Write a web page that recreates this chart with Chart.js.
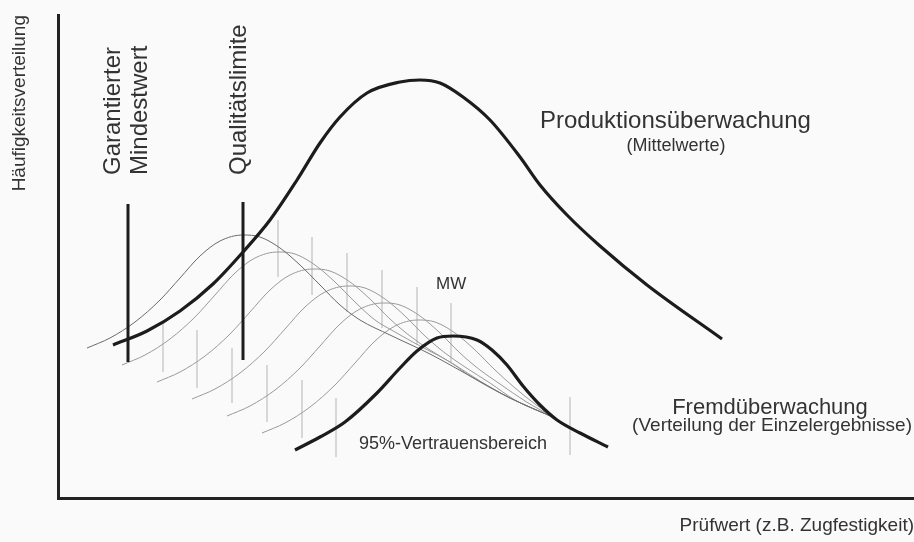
<!DOCTYPE html>
<html lang="de">
<head>
<meta charset="utf-8">
<title>Produktions- und Fremdüberwachung</title>
<script src="https://cdn.jsdelivr.net/npm/chart.js@4.4.1/dist/chart.umd.min.js"></script>
<style>
  html, body { margin: 0; padding: 0; background: #fafafa; }
  canvas { display: block; }
</style>
</head>
<body>
<canvas id="chart" width="914" height="542"></canvas>
<script>
const produktion = [[55,153],[89,167],[122,187],[155,214],[185,246],[212,278],[239,318],[262,355],[282,381],[309,405],[342,416],[362,418],[382,415],[405,401],[432,378],[462,341],[482,313],[509,283],[542,252],[589,213],[664,159]];
const fremd = [[237,48],[262,61],[287,76],[319,105],[342,130],[359,147],[379,160],[395,162],[419,158],[434,148],[449,133],[465,112],[482,93],[499,78],[522,65],[550,51]];

// Stichproben (dünne Kurven)
const kurve1 = [[29,150],[52,160],[77,176],[102,198],[122,220],[142,242],[162,257],[185,263],[202,261],[222,250],[242,233],[262,213],[282,193],[302,178],[332,163],[372,144],[412,122],[452,100],[497,80]];
const kurve2 = [[64,133],[87,143],[112,159],[137,181],[157,203],[177,225],[197,240],[220,246],[237,244],[257,233],[277,216],[297,196],[317,178],[337,166],[362,152],[392,136],[412,122],[452,100],[497,80]];
const kurve3 = [[99,116],[122,126],[147,142],[172,164],[192,186],[212,208],[232,223],[255,229],[272,227],[292,216],[312,199],[332,179],[352,162],[372,148],[397,133],[422,117],[452,100],[497,80]];
const kurve4 = [[134,99],[157,109],[182,125],[207,147],[227,169],[247,191],[267,206],[290,212],[307,210],[327,199],[347,182],[367,162],[387,145],[407,131],[432,115],[457,98],[497,80]];
const kurve5 = [[169,82],[192,92],[217,108],[242,130],[262,152],[282,174],[302,189],[325,195],[342,193],[362,182],[382,165],[402,145],[422,128],[442,114],[467,97],[497,80]];
const kurve6 = [[204,65],[227,75],[252,91],[277,113],[297,135],[317,157],[337,172],[360,178],[377,176],[397,165],[417,148],[437,128],[457,110],[477,94],[497,80]];

// Grenzlinien: [x, y von, y bis]
const mindestwert = [70, 136, 294];
const qualitaetslimite = [185, 138, 296];
const mittelwerte = [[220,221,278],[254,203,261],[289,186,245],[324,170,228],[359,153,211],[393,136,195]];
const vertrauensgrenzen = [[105,126,176],[139,110,168],[174,95,150],[209,76,133],[244,60,118],[278,41,100],[512,43,101]];

const fontFamily = '"Liberation Sans", Arial, Helvetica, sans-serif';

function toPoints(arr) {
  return arr.map((p) => ({ x: p[0], y: p[1] }));
}
function toSegments(arr) {
  let pts = [];
  arr.forEach((s) => {
    pts.push({ x: s[0], y: s[1] }, { x: s[0], y: s[2] }, { x: s[0], y: null });
  });
  return pts;
}

function thick(data) {
  return {
    data: toPoints(data),
    borderColor: "#1c1c1c",
    borderWidth: 3.2,
    pointRadius: 0,
    cubicInterpolationMode: "monotone",
  };
}
function thin(data, color) {
  return {
    data: toPoints(data),
    borderColor: color,
    borderWidth: 1,
    pointRadius: 0,
    cubicInterpolationMode: "monotone",
  };
}

const texte = [
  { text: "Garantierter", x: 62, y: 323, size: 24, align: "left", rot: true },
  { text: "Mindestwert", x: 89, y: 323, size: 24, align: "left", rot: true },
  { text: "Qualitätslimite", x: 188, y: 323, size: 24, align: "left", rot: true },
  { text: "Produktionsüberwachung", x: 482, y: 370, size: 24, align: "left" },
  { text: "(Mittelwerte)", x: 618, y: 347, size: 18, align: "center" },
  { text: "MW", x: 378, y: 209, size: 17, align: "left" },
  { text: "95%-Vertrauensbereich", x: 301, y: 49, size: 18, align: "left" },
  { text: "Fremdüberwachung", x: 712, y: 84, size: 22, align: "center" },
  { text: "(Verteilung der Einzelergebnisse)", x: 854, y: 67, size: 19, align: "right" },
];

const labelPlugin = {
  id: "labels",
  afterDraw(chart) {
    const ctx = chart.ctx;
    const sx = chart.scales.x;
    const sy = chart.scales.y;
    ctx.save();
    ctx.fillStyle = "#333";
    ctx.textBaseline = "alphabetic";
    texte.forEach((t) => {
      ctx.save();
      ctx.font = t.size + "px " + fontFamily;
      ctx.textAlign = t.align;
      ctx.translate(sx.getPixelForValue(t.x), sy.getPixelForValue(t.y));
      if (t.rot) ctx.rotate(-Math.PI / 2);
      ctx.fillText(t.text, 0, 0);
      ctx.restore();
    });
    ctx.restore();
  },
};

Chart.defaults.font.family = fontFamily;

new Chart(document.getElementById("chart"), {
  type: "line",
  data: {
    datasets: [
      thick(produktion),
      thick(fremd),
      {
        data: toSegments([mindestwert, qualitaetslimite]),
        borderColor: "#1c1c1c",
        borderWidth: 3,
        pointRadius: 0,
        tension: 0,
      },
      thin(kurve1, "#6a6a6a"),
      thin(kurve2, "#9a9a9a"),
      thin(kurve3, "#9a9a9a"),
      thin(kurve4, "#9a9a9a"),
      thin(kurve5, "#9a9a9a"),
      thin(kurve6, "#9a9a9a"),
      {
        data: toSegments(mittelwerte.concat(vertrauensgrenzen)),
        borderColor: "#b4b4b4",
        borderWidth: 1,
        pointRadius: 0,
        tension: 0,
      },
    ],
  },
  options: {
    responsive: false,
    animation: false,
    layout: { padding: { left: 8, top: 15, right: 0, bottom: 0 } },
    plugins: {
      legend: { display: false },
      tooltip: { enabled: false },
    },
    scales: {
      x: {
        type: "linear",
        min: 0,
        max: 856,
        grid: { display: false, drawTicks: false },
        border: { display: true, color: "#222", width: 3 },
        ticks: { display: false },
        title: {
          display: true,
          text: "Prüfwert (z.B. Zugfestigkeit)",
          align: "end",
          color: "#333",
          font: { size: 19 },
          padding: { top: 16.6, bottom: 4.6 },
        },
      },
      y: {
        min: 0,
        max: 483,
        grid: { display: false, drawTicks: false },
        border: { display: true, color: "#222", width: 3 },
        ticks: { display: false },
        title: {
          display: true,
          text: "Häufigkeitsverteilung",
          align: "end",
          color: "#333",
          font: { size: 19 },
          padding: { top: 0, bottom: 27.2 },
        },
      },
    },
  },
  plugins: [labelPlugin],
});
</script>
</body>
</html>
